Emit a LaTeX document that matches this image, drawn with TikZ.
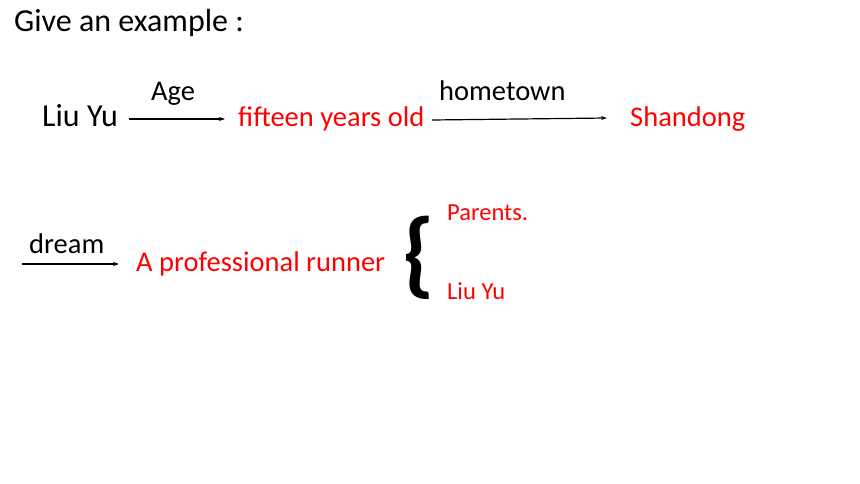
\documentclass[tikz,border=0pt]{standalone}
\usepackage{fontspec}
\setmainfont{Carlito}
\usetikzlibrary{arrows.meta}
\definecolor{redtxt}{RGB}{255,0,0}
\tikzset{
  lbl/.style={anchor=base west,inner sep=0pt,font=\fontsize{28.5}{32}\selectfont},
  biglbl/.style={anchor=base west,inner sep=0pt,font=\fontsize{32}{36}\selectfont},
  redlbl/.style={lbl,text=redtxt},
  smallred/.style={anchor=base west,inner sep=0pt,text=redtxt,font=\fontsize{24.5}{28}\selectfont},
  arr/.style={line width=1.2pt,-{Stealth[length=6pt,width=4pt]}}
}
\begin{document}
\begin{tikzpicture}[x=1pt,y=-1pt]
\useasboundingbox (0,0) rectangle (860,484);
\node[biglbl] (title) at (14,32) {Give an example :};
\node[biglbl] (liu) at (42,127) {Liu Yu};
\node[lbl] (age) at (151,101) {Age};
\node[redlbl] (fifteen) at (238,127) {fifteen years old};
\node[lbl] (home) at (439,101) {hometown};
\node[redlbl] (shan) at (630,127) {Shandong};
\node[lbl] (dream) at (29,253) {dream};
\node[redlbl] (runner) at (136,271) {A professional runner};
\node[anchor=center,inner sep=0pt,font=\fontsize{95}{95}\selectfont\bfseries] (brace) at (419,258) {\{};
\node[smallred] (parents) at (447,220) {Parents.};
\node[smallred] (liu2) at (447,299) {Liu Yu};
\coordinate (a1s) at (129,119);
\coordinate (a1e) at (225,119);
\coordinate (a2s) at (432,120);
\coordinate (a2e) at (607,118);
\coordinate (a3s) at (22,264);
\coordinate (a3e) at (119,264);
\draw[arr] (a1s) -- (a1e);
\draw[arr] (a2s) -- (a2e);
\draw[arr] (a3s) -- (a3e);
\end{tikzpicture}
\end{document}
